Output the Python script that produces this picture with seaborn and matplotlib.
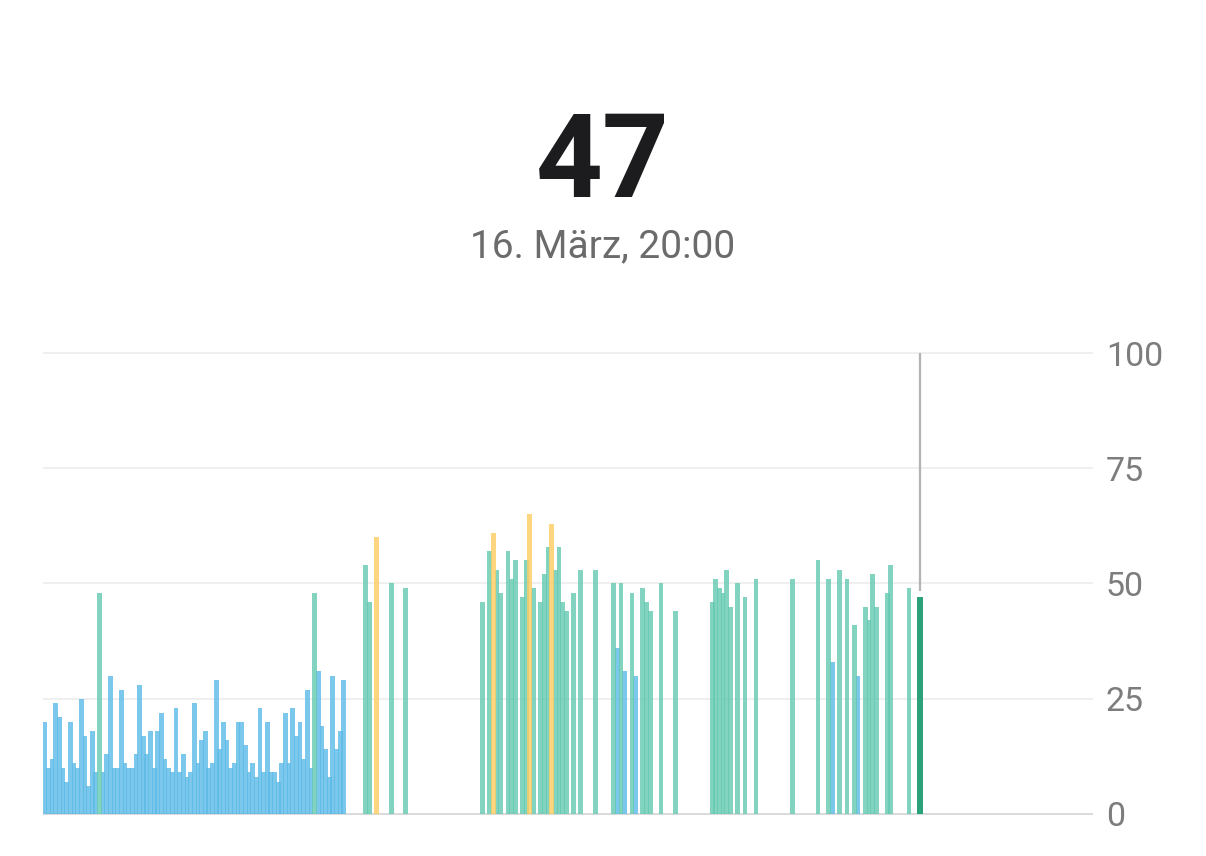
import numpy as np
import pandas as pd
import seaborn as sns
import matplotlib.pyplot as plt

# values per 5-minute slot of the day (slot 0 = 00:00, 288 slots = 24 h)
night_values = [20, 10, 12, 24, 21, 10, 7, 20, 11, 10, 25, 17, 6, 18, 9, 48,
                9, 13, 30, 10, 10, 27, 11, 10, 10, 13, 28, 17, 13, 18, 10, 18,
                22, 12, 10, 9, 23, 9, 13, 8, 9, 24, 11, 16, 18, 10, 11, 29,
                14, 20, 16, 10, 11, 20, 20, 15, 9, 11, 8, 23, 9, 20, 9, 9,
                7, 11, 22, 11, 23, 17, 20, 12, 27, 10, 48, 31, 19, 14, 8, 30,
                14, 18, 29]

day_slots = [88, 89, 91, 95, 99,
             120, 122, 123, 124, 125, 127, 128, 129, 131, 132, 133, 134, 136,
             137, 138, 139, 140, 141, 142, 143, 145, 147, 151,
             156, 157, 158, 159, 161, 162, 164, 165, 166, 169, 173,
             183, 184, 185, 186, 187, 188, 190, 192, 195,
             205, 212, 215, 216, 218, 220, 222, 223, 225, 226, 227, 228,
             231, 232, 237]
day_values = [54, 46, 60, 50, 49,
              46, 57, 61, 53, 48, 57, 51, 55, 47, 55, 65, 49, 46,
              52, 58, 63, 53, 58, 46, 44, 48, 53, 53,
              50, 36, 50, 31, 48, 30, 49, 46, 44, 50, 44,
              46, 51, 49, 48, 53, 45, 50, 47, 51,
              51, 55, 51, 33, 53, 51, 41, 30, 45, 42, 52, 45,
              48, 54, 49]

selected_slot = 240
selected_value = 47
headline = "47"
subtitle = "16. März, 20:00"
y_ticks = [0, 25, 50, 75, 100]

slots = list(range(len(night_values))) + day_slots
values = night_values + day_values
df = pd.DataFrame({"slot": slots, "value": values})
df["level"] = np.select([df["value"] >= 60, df["value"] >= 40], ["high", "mid"], "low")
sel = pd.DataFrame({"slot": [selected_slot], "value": [selected_value]})

palette = {"low": "#5bbbe8", "mid": "#63c9b0", "high": "#fecc60"}

sns.set_style("white")
plt.rcParams["font.family"] = ["Roboto", "DejaVu Sans"]

fig = plt.figure(figsize=(12.06, 8.56), dpi=100)
ax = fig.add_axes([0.0356, 0.04696, 0.8709, 0.5428])

sns.barplot(data=df, x="slot", y="value", hue="level", palette=palette,
            native_scale=True, dodge=False, width=1.3, saturation=1,
            errorbar=None, legend=False, alpha=0.8, linewidth=0, ax=ax, zorder=3)
sns.barplot(data=sel, x="slot", y="value", color="#2ca27b", native_scale=True,
            width=1.4, saturation=1, errorbar=None, linewidth=0, ax=ax, zorder=4)

# selection marker
ax.vlines(selected_slot, selected_value + 1.3, 100, color="#b3b3b3", lw=1.6, zorder=2)

ax.set_xlim(-0.5, 287.5)
ax.set_ylim(-0.4, 100.4)
ax.set_yticks(y_ticks)
ax.yaxis.tick_right()
ax.set_xticks([])
ax.set_xlabel("")
ax.set_ylabel("")
ax.tick_params(axis="y", length=0, pad=9, labelsize=24.5, labelcolor="#7d7d7d")
ax.set_axisbelow(True)
ax.yaxis.grid(True, color="#ececec", lw=1.2)
ax.axhline(0, color="#dadada", lw=1.4, zorder=1)
sns.despine(ax=ax, left=True, bottom=True)

fig.text(0.5, 1 - 197 / 856, headline, ha="center", va="baseline",
         fontsize=84, fontweight="bold", color="#1c1c1e")
fig.text(0.5, 1 - 257 / 856, subtitle, ha="center", va="baseline",
         fontsize=28, color="#6b6b6b")

plt.savefig("out.png", dpi=100)
